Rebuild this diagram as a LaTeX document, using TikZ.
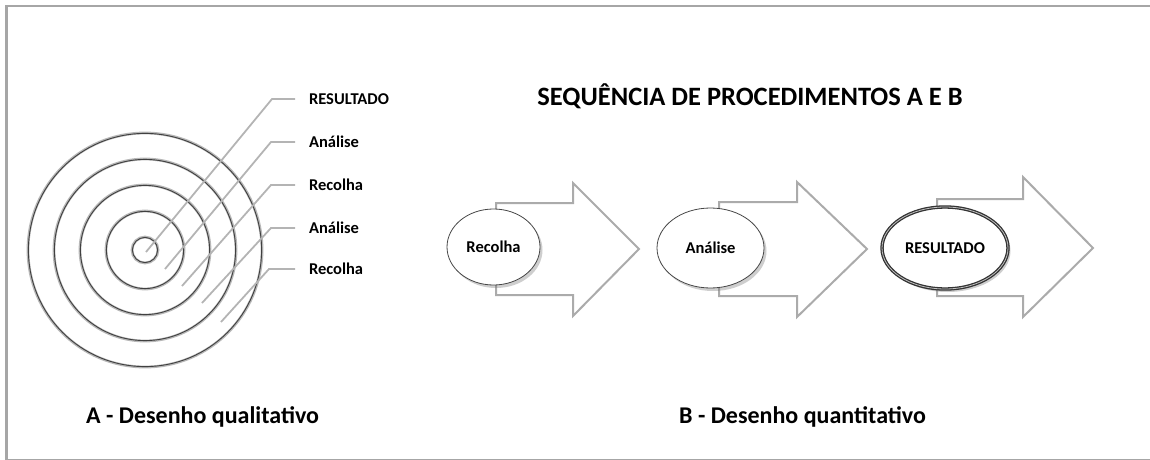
\documentclass[tikz,border=0pt]{standalone}
\usepackage{fontspec}
\setmainfont{Carlito}
\usetikzlibrary{shapes.geometric,shadows}
\definecolor{framegray}{HTML}{A6A6A6}
\definecolor{leadgray}{HTML}{B4B4B4}
\definecolor{arrowgray}{HTML}{ABABAB}
\tikzset{
  ring/.style={draw=black!75, line width=0.9pt},
  ringhalo/.style={draw=black!28, line width=2.8pt},
  leader/.style={draw=leadgray, line width=1.8pt, line join=miter},
  lbl/.style={font=\fontsize{16.5}{18}\selectfont\bfseries, anchor=west, inner xsep=14pt, inner ysep=0pt, outer sep=0pt,
    text height=10.6pt, text depth=0pt},
  blockarrow/.style={draw=arrowgray, line width=2pt, fill=white, line join=miter},
  stage/.style={ellipse, draw=black!72, line width=0.8pt, fill=white, inner sep=0pt,
    font=\fontsize{16.5}{18}\selectfont\bfseries, text height=10.6pt, text depth=0pt,
    drop shadow={shadow xshift=2.5pt, shadow yshift=-3pt, opacity=0.35, fill=black!55}},
  title/.style={font=\fontsize{26.5}{30}\selectfont\bfseries, anchor=base},
  caption/.style={font=\fontsize{24}{28}\selectfont\bfseries, anchor=base west, inner sep=0pt},
}
\begin{document}
\begin{tikzpicture}[x=1pt,y=-1pt]
\useasboundingbox (0,0) rectangle (1150,460);
% frame
\draw[framegray, line width=2.6pt] (6.2,460) -- (6.2,6.2) -- (1150,6.2);
\draw[framegray, line width=1.4pt] (6.2,459.3) -- (1150,459.3);

% concentric rings
\coordinate (c) at (145,250);
\foreach \r in {13,39,65,91,117}{
  \draw[ringhalo] (c) circle[radius=\r];
  \draw[ring] (c) circle[radius=\r-0.4];
}

% leader lines and labels
\node[lbl] (l1) at (295,99) {RESULTADO};
\node[lbl] (l2) at (295,142) {Análise};
\node[lbl] (l3) at (295,185) {Recolha};
\node[lbl] (l4) at (295,228) {Análise};
\node[lbl] (l5) at (295,269) {Recolha};
\coordinate (s1) at (146,252); \coordinate (e1) at (272,99);
\coordinate (s2) at (165,269); \coordinate (e2) at (271,142);
\coordinate (s3) at (182,286); \coordinate (e3) at (271,185);
\coordinate (s4) at (202,303); \coordinate (e4) at (271,228);
\coordinate (s5) at (221,322); \coordinate (e5) at (269,269);
\foreach \i in {1,...,5}{
  \draw[leader] (s\i) -- (e\i) -- (l\i.west);
}

% title
\node[title] (t) at (750,105) {SEQUÊNCIA DE PROCEDIMENTOS A E B};

% block arrows
\draw[blockarrow] (496,203) -- (573,203) -- (573,183) -- (639,249) -- (573,316) -- (573,295) -- (496,295) -- cycle;
\draw[blockarrow] (719,202) -- (797,202) -- (797,182) -- (867,249) -- (797,317) -- (797,296) -- (719,296) -- cycle;
\draw[blockarrow] (937,199) -- (1023,199) -- (1023,177) -- (1093,248) -- (1023,317) -- (1023,296) -- (937,296) -- cycle;

% stages
\node[stage, minimum width=93pt, minimum height=76pt] (r) at (493.5,247) {Recolha};
\node[stage, minimum width=107pt, minimum height=80pt] (a) at (710.5,248) {Análise};
\node[stage, minimum width=126pt, minimum height=82pt, draw=black!80, line width=1.3pt,
  double=black!25, double distance=0.8pt] (res) at (945,248) {RESULTADO};

% captions
\node[caption] (ca) at (86,423) {A - Desenho qualitativo};
\node[caption] (cb) at (679,423) {B - Desenho quantitativo};
\end{tikzpicture}
\end{document}
